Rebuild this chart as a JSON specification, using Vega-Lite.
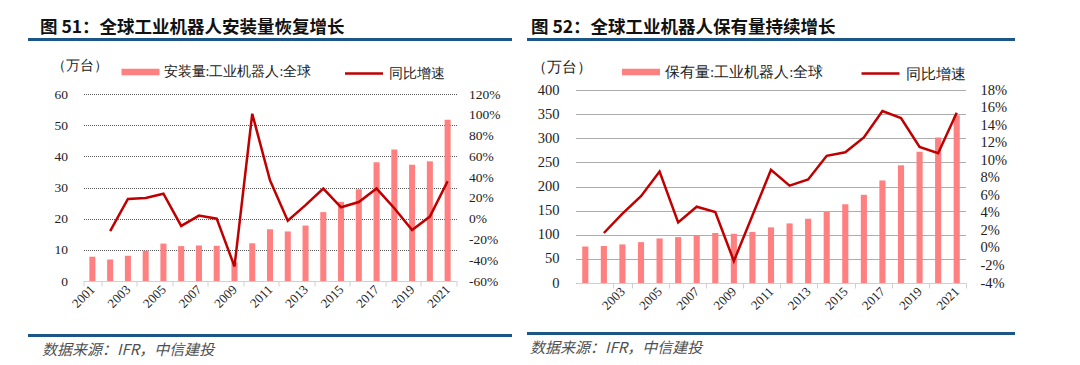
{
  "$schema": "https://vega.github.io/schema/vega-lite/v6.json",
  "padding": {"left": 28, "top": 19, "right": 0, "bottom": 0},
  "background": "white",
  "config": {
    "view": {"stroke": null},
    "axis": {"labelFont": "Liberation Serif", "labelFontSize": 13, "labelColor": "#222", "titleFont": "Liberation Serif"},
    "axisX": {"labelOverlap": false},
    "legend": {"labelFont": "Liberation Serif", "titleFont": "Liberation Serif", "labelColor": "#222", "titleColor": "#222", "titleFontWeight": "normal"}
  },
  "hconcat": [
    {
      "vconcat": [
        {
          "width": 484, "height": 3,
          "view": {"fill": "#1c5687", "stroke": null},
          "title": {"text": "图 51：全球工业机器人安装量恢复增长", "anchor": "start", "dx": 12, "offset": -3, "font": "Noto Sans CJK SC", "fontSize": 17.5, "fontWeight": "bold", "color": "#111"},
          "data": {"values": [{}]},
          "mark": {"type": "text"},
          "encoding": {"text": {"value": ""}}
        },
        {
          "width": 373, "height": 187,
          "data": {"values": [
            {"year": "2001", "v": 7.8, "g": null},
            {"year": "2002", "v": 6.9, "g": -12},
            {"year": "2003", "v": 8.1, "g": 19},
            {"year": "2004", "v": 9.7, "g": 20},
            {"year": "2005", "v": 12.0, "g": 24},
            {"year": "2006", "v": 11.2, "g": -7},
            {"year": "2007", "v": 11.4, "g": 3},
            {"year": "2008", "v": 11.3, "g": 0},
            {"year": "2009", "v": 6.0, "g": -46},
            {"year": "2010", "v": 12.1, "g": 101},
            {"year": "2011", "v": 16.6, "g": 37},
            {"year": "2012", "v": 15.9, "g": -2},
            {"year": "2013", "v": 17.8, "g": 13},
            {"year": "2014", "v": 22.1, "g": 29},
            {"year": "2015", "v": 25.4, "g": 11},
            {"year": "2016", "v": 29.4, "g": 16},
            {"year": "2017", "v": 38.1, "g": 29},
            {"year": "2018", "v": 42.2, "g": 10},
            {"year": "2019", "v": 37.3, "g": -11},
            {"year": "2020", "v": 38.4, "g": 2},
            {"year": "2021", "v": 51.7, "g": 36}
          ]},
          "layer": [
            {
              "mark": {"type": "bar", "width": {"band": 0.34}},
              "encoding": {
                "x": {"field": "year", "type": "nominal", "scale": {"paddingInner": 0, "paddingOuter": 0},
                  "axis": {"title": null, "values": ["2001","2003","2005","2007","2009","2011","2013","2015","2017","2019","2021"], "tickBand": "extent", "labelAngle": -45, "labelAlign": "right", "labelBaseline": "middle", "labelPadding": 1, "labelFontSize": 13, "labelOverlap": false, "domainColor": "#d0d0d0", "tickColor": "#d0d0d0", "tickSize": 5}},
                "y": {"field": "v", "type": "quantitative", "scale": {"domain": [0, 60]},
                  "axis": {"title": null, "values": [0,10,20,30,40,50,60], "domain": false, "ticks": false, "labelPadding": 16, "labelFontSize": 13.5, "grid": true, "gridDash": [1, 1], "gridColor": "#5a5a5a", "gridWidth": 1}},
                "fill": {"datum": "安装量:工业机器人:全球", "scale": {"range": ["#ff8080"]},
                  "legend": {"orient": "none", "legendX": -32, "legendY": -41, "title": "（万台）", "titleOrient": "left", "titleFontSize": 14, "titlePadding": 14, "titleBaseline": "middle", "labelFontSize": 14, "labelOffset": 4, "symbolType": "M-1,-0.17H1V0.17H-1Z", "symbolSize": 1444, "symbolStrokeWidth": 0}}
              }
            },
            {
              "mark": {"type": "line", "strokeWidth": 2.5},
              "encoding": {
                "x": {"field": "year", "type": "nominal"},
                "y": {"field": "g", "type": "quantitative", "scale": {"domain": [-60, 120]},
                  "axis": {"orient": "right", "title": null, "values": [-60,-40,-20,0,20,40,60,80,100,120], "labelExpr": "datum.value + '%'", "domain": false, "ticks": false, "grid": false, "labelPadding": 12, "labelFontSize": 13.5}},
                "stroke": {"datum": "同比增速", "scale": {"range": ["#c00000"]},
                  "legend": {"orient": "none", "legendX": 260, "legendY": -41, "title": null, "labelFontSize": 14, "labelOffset": 4, "symbolType": "stroke", "symbolSize": 1444, "symbolStrokeWidth": 2.5}}
              }
            }
          ],
          "resolve": {"scale": {"y": "independent"}}
        },
        {
          "width": 484, "height": 3,
          "view": {"fill": "#1c5687", "stroke": null},
          "title": {"text": "数据来源：IFR，中信建投", "orient": "bottom", "anchor": "start", "dx": 14, "offset": 2, "font": "Noto Sans CJK SC", "fontSize": 15, "fontStyle": "italic", "fontWeight": "normal", "color": "#505050"},
          "data": {"values": [{}]},
          "mark": {"type": "text"},
          "encoding": {"text": {"value": ""}}
        }
      ],
      "spacing": 53,
      "center": true,
      "bounds": "flush",
      "resolve": {"scale": {"fill": "independent", "stroke": "independent"}}
    },
    {
      "vconcat": [
        {
          "width": 488, "height": 3,
          "view": {"fill": "#1c5687", "stroke": null},
          "title": {"text": "图 52：全球工业机器人保有量持续增长", "anchor": "start", "dx": 4, "offset": -3, "font": "Noto Sans CJK SC", "fontSize": 17.5, "fontWeight": "bold", "color": "#111"},
          "data": {"values": [{}]},
          "mark": {"type": "text"},
          "encoding": {"text": {"value": ""}}
        },
        {
          "width": 390, "height": 193,
          "data": {"values": [
            {"year": "2001", "v": 75.6, "g": null},
            {"year": "2002", "v": 76.9, "g": 1.7},
            {"year": "2003", "v": 80.0, "g": 3.9},
            {"year": "2004", "v": 84.7, "g": 5.9},
            {"year": "2005", "v": 92.3, "g": 8.7},
            {"year": "2006", "v": 95.1, "g": 2.9},
            {"year": "2007", "v": 99.5, "g": 4.7},
            {"year": "2008", "v": 103.6, "g": 4.1},
            {"year": "2009", "v": 102.1, "g": -1.5},
            {"year": "2010", "v": 105.9, "g": 3.7},
            {"year": "2011", "v": 115.3, "g": 8.9},
            {"year": "2012", "v": 123.5, "g": 7.1},
            {"year": "2013", "v": 133.2, "g": 7.8},
            {"year": "2014", "v": 147.2, "g": 10.5},
            {"year": "2015", "v": 163.2, "g": 10.9},
            {"year": "2016", "v": 182.8, "g": 12.6},
            {"year": "2017", "v": 212.6, "g": 15.6},
            {"year": "2018", "v": 243.9, "g": 14.8},
            {"year": "2019", "v": 272.2, "g": 11.5},
            {"year": "2020", "v": 301.5, "g": 10.8},
            {"year": "2021", "v": 347.7, "g": 15.4}
          ]},
          "layer": [
            {
              "mark": {"type": "bar", "width": {"band": 0.33}},
              "encoding": {
                "x": {"field": "year", "type": "nominal", "scale": {"paddingInner": 0, "paddingOuter": 0},
                  "axis": {"title": null, "values": ["2001","2003","2005","2007","2009","2011","2013","2015","2017","2019","2021"], "tickBand": "extent", "labelAngle": -45, "labelAlign": "right", "labelBaseline": "middle", "labelPadding": 1, "labelFontSize": 13, "labelOverlap": false, "domainColor": "#d0d0d0", "tickColor": "#d0d0d0", "tickSize": 5}},
                "y": {"field": "v", "type": "quantitative", "scale": {"domain": [0, 400]},
                  "axis": {"title": null, "values": [0,50,100,150,200,250,300,350,400], "domain": false, "ticks": false, "labelPadding": 17, "labelFontSize": 14.5, "grid": true, "gridDash": [1, 1], "gridColor": "#5a5a5a", "gridWidth": 1}},
                "fill": {"datum": "保有量:工业机器人:全球", "scale": {"range": ["#ff8080"]},
                  "legend": {"orient": "none", "legendX": -44, "legendY": -37, "title": "（万台）", "titleOrient": "left", "titleFontSize": 15, "titlePadding": 30, "titleBaseline": "middle", "labelFontSize": 15, "labelOffset": 5, "symbolType": "M-1,-0.17H1V0.17H-1Z", "symbolSize": 1444, "symbolStrokeWidth": 0}}
              }
            },
            {
              "mark": {"type": "line", "strokeWidth": 2.5},
              "encoding": {
                "x": {"field": "year", "type": "nominal"},
                "y": {"field": "g", "type": "quantitative", "scale": {"domain": [-4, 18]},
                  "axis": {"orient": "right", "title": null, "values": [-4,-2,0,2,4,6,8,10,12,14,16,18], "labelExpr": "datum.value + '%'", "domain": false, "ticks": false, "grid": false, "labelPadding": 14, "labelFontSize": 14.5}},
                "stroke": {"datum": "同比增速", "scale": {"range": ["#c00000"]},
                  "legend": {"orient": "none", "legendX": 284, "legendY": -37, "title": null, "labelFontSize": 15, "labelOffset": 5, "symbolType": "stroke", "symbolSize": 1444, "symbolStrokeWidth": 2.5}}
              }
            }
          ],
          "resolve": {"scale": {"y": "independent"}}
        },
        {
          "width": 488, "height": 3,
          "view": {"fill": "#1c5687", "stroke": null},
          "title": {"text": "数据来源：IFR，中信建投", "orient": "bottom", "anchor": "start", "dx": 3, "offset": 2, "font": "Noto Sans CJK SC", "fontSize": 15, "fontStyle": "italic", "fontWeight": "normal", "color": "#505050"},
          "data": {"values": [{}]},
          "mark": {"type": "text"},
          "encoding": {"text": {"value": ""}}
        }
      ],
      "spacing": 49,
      "center": true,
      "bounds": "flush",
      "resolve": {"scale": {"fill": "independent", "stroke": "independent"}}
    }
  ],
  "spacing": 15,
  "resolve": {"scale": {"fill": "independent", "stroke": "independent", "x": "independent", "y": "independent"}}
}
